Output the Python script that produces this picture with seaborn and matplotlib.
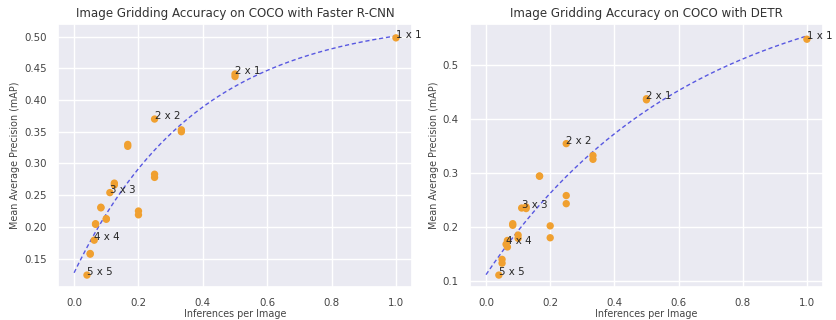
import numpy as np
import pandas as pd
import matplotlib
matplotlib.use("Agg")
import matplotlib.pyplot as plt
import seaborn as sns

# inferences per image = 1 / (rows * cols) for each grid layout
inferences = [1.0, 0.5, 0.5, 0.25, 0.3333, 0.3333, 0.1667, 0.1667, 0.25, 0.25,
              0.1111, 0.125, 0.125, 0.2, 0.2, 0.0833, 0.0833, 0.1, 0.1,
              0.0625, 0.0667, 0.0667, 0.05, 0.05, 0.04]
grid_names = ["1 x 1", "2 x 1", "1 x 2", "2 x 2", "3 x 1", "1 x 3", "3 x 2", "2 x 3",
              "4 x 1", "1 x 4", "3 x 3", "4 x 2", "2 x 4", "5 x 1", "1 x 5",
              "4 x 3", "3 x 4", "5 x 2", "2 x 5", "4 x 4", "5 x 3", "3 x 5",
              "5 x 4", "4 x 5", "5 x 5"]
labelled = ["1 x 1", "2 x 1", "2 x 2", "3 x 3", "4 x 4", "5 x 5"]

map_frcnn = [0.498, 0.441, 0.437, 0.370, 0.353, 0.350, 0.330, 0.327, 0.283, 0.278,
             0.254, 0.269, 0.266, 0.225, 0.219, 0.231, 0.230, 0.213, 0.212,
             0.179, 0.205, 0.204, 0.158, 0.157, 0.124]
map_detr = [0.547, 0.437, 0.435, 0.354, 0.332, 0.325, 0.294, 0.294, 0.258, 0.243,
            0.235, 0.234, 0.237, 0.202, 0.180, 0.206, 0.203, 0.185, 0.179,
            0.168, 0.175, 0.163, 0.140, 0.133, 0.111]


def fit_saturating(x, y):
    # least squares fit of y = a - b * exp(-c x), grid search over c
    x = np.asarray(x)
    y = np.asarray(y)
    best = None
    for c in np.linspace(0.3, 12, 3000):
        X = np.column_stack([np.ones_like(x), -np.exp(-c * x)])
        coef, _, _, _ = np.linalg.lstsq(X, y, rcond=None)
        err = np.sum((X @ coef - y) ** 2)
        if best is None or err < best[0]:
            best = (err, coef[0], coef[1], c)
    _, a, b, c = best
    return lambda t: a - b * np.exp(-c * t)


sns.set_theme(style="darkgrid")
plt.rcParams["font.family"] = ["DejaVu Sans"]

fig = plt.figure(figsize=(8.37, 3.2), dpi=100)
ax1 = fig.add_axes([0.0693, 0.103, 0.423, 0.822])
ax2 = fig.add_axes([0.5615, 0.103, 0.4217, 0.822])

panels = [(ax1, map_frcnn, "Image Gridding Accuracy on COCO with Faster R-CNN"),
          (ax2, map_detr, "Image Gridding Accuracy on COCO with DETR")]

for ax, scores, title in panels:
    df = pd.DataFrame({"x": inferences, "y": scores, "grid": grid_names})
    f = fit_saturating(df["x"], df["y"])
    xs = np.linspace(0, 1, 200)
    sns.lineplot(x=xs, y=f(xs), ax=ax, color="#3333dd", alpha=0.8, lw=1.0,
                 dashes=False, linestyle=(0, (3, 2)))
    sns.scatterplot(data=df, x="x", y="y", ax=ax, color="#f0a030", s=28,
                    edgecolor="none", zorder=3)
    for _, row in df[df["grid"].isin(labelled)].iterrows():
        ax.annotate(row["grid"], (row["x"], row["y"]), fontsize=7.4,
                    color="#262626", annotation_clip=False)
    ax.set_title(title, fontsize=8.6, pad=5, color="#333333")
    ax.set_xlabel("Inferences per Image", fontsize=6.9, labelpad=0.5, color="#444444")
    ax.set_ylabel("Mean Average Precision (mAP)", fontsize=6.9, labelpad=3,
                  color="#444444")
    ax.tick_params(labelsize=7.4, pad=2, colors="#444444")
    ax.set_xticks([0.0, 0.2, 0.4, 0.6, 0.8, 1.0])

ax2.set_yticks([0.1, 0.2, 0.3, 0.4, 0.5])

fig.savefig("out.png", dpi=100)
